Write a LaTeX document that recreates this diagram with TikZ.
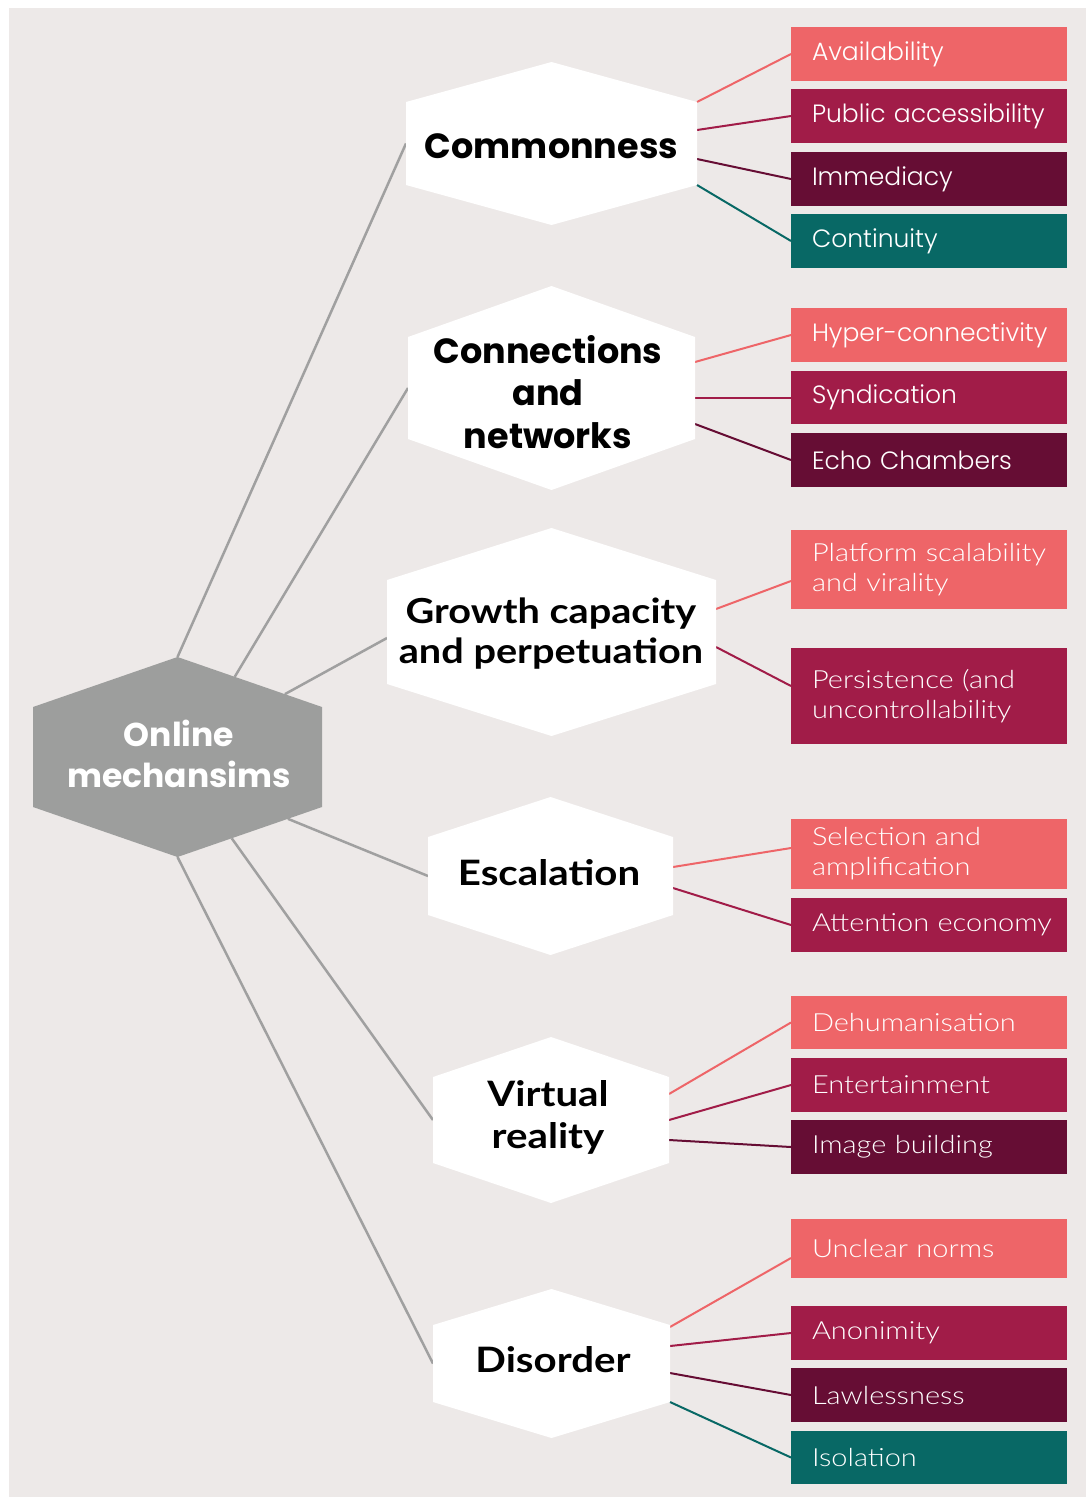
\documentclass[tikz,border=0pt]{standalone}
\usepackage{fontspec}
\usetikzlibrary{calc}

% Typefaces: a geometric sans for the upper groups, a humanist one for the rest
\newfontfamily\geoB{Poppins}
\newfontfamily\geoL{Poppins Light}
\newfontfamily\humB{Lato}[FakeStretch=1.15]
\newfontfamily\humL{Lato Light}[FakeStretch=1.16]

\definecolor{bgpaper}{HTML}{EDE9E8}
\definecolor{coral}{HTML}{EE6568}
\definecolor{crimson}{HTML}{A11C48}
\definecolor{maroon}{HTML}{660D34}
\definecolor{teal}{HTML}{086865}
\definecolor{hubgray}{HTML}{9D9E9D}
\definecolor{spokegray}{HTML}{A0A0A0}

% fill a pointy-topped hexagon around a frame node; #2 = height of the tips
\newcommand\hexfill[3]{%
  \fill[#3] (#1.north west) -- ($(#1.north)+(0,-#2)$) -- (#1.north east)
    -- (#1.south east) -- ($(#1.south)+(0,#2)$) -- (#1.south west) -- cycle;}

\tikzset{
  hexframe/.style={rectangle, inner sep=0pt, outer sep=0pt},
  hexlabel/.style={align=center, inner sep=0pt, text=black},
  geotitle/.style={hexlabel, font=\geoB\bfseries\fontsize{35}{42.5}\selectfont},
  humtitle/.style={hexlabel, font=\humB\bfseries\fontsize{35}{41}\selectfont},
  hubtitle/.style={hexlabel, text=white, font=\geoB\bfseries\fontsize{33}{41}\selectfont},
  leaf/.style={rectangle, minimum width=276, text width=234, inner xsep=21,
    inner ysep=0pt, outer sep=0pt, align=left, text=white},
  geoleaf/.style={leaf, font=\geoL\fontsize{25}{30}\selectfont},
  humleaf/.style={leaf, font=\humL\fontsize{25}{30}\selectfont},
  spoke/.style={draw=spokegray, line width=2.5},
  twig/.style={line width=2},
}

\begin{document}
\begin{tikzpicture}[x=1pt,y=-1pt]
\useasboundingbox (0,0) rectangle (1086,1497);
\fill[bgpaper] (9,8) rectangle (1086,1497);

% ---- hexagon frames (invisible rectangles spanning the vertical sides)
\node[hexframe, minimum width=289, minimum height=100] (hub)  at (177.5,757) {};
\node[hexframe, minimum width=291, minimum height=83]  (com)  at (551.5,143.5) {};
\node[hexframe, minimum width=287, minimum height=102] (conn) at (551.5,388) {};
\node[hexframe, minimum width=329, minimum height=104] (grow) at (551.5,632) {};
\node[hexframe, minimum width=245, minimum height=78]  (esc)  at (550.5,876) {};
\node[hexframe, minimum width=236, minimum height=86]  (virt) at (551,1120) {};
\node[hexframe, minimum width=237, minimum height=77]  (dis)  at (551.5,1363.5) {};

% ---- leaf boxes
\node[geoleaf, fill=coral,   minimum height=54] (avail)  at (929,54)  {Availability};
\node[geoleaf, fill=crimson, minimum height=54] (public) at (929,116) {\mbox{Public accessibility}};
\node[geoleaf, fill=maroon,  minimum height=54] (immed)  at (929,179) {Immediacy};
\node[geoleaf, fill=teal,    minimum height=54] (contin) at (929,241) {Continuity};

\node[geoleaf, fill=coral,   minimum height=54] (hyper)  at (929,335)   {\mbox{Hyper-connectivity}};
\node[geoleaf, fill=crimson, minimum height=53] (synd)   at (929,397.5) {Syndication};
\node[geoleaf, fill=maroon,  minimum height=54] (echo)   at (929,460)   {Echo Chambers};

\node[humleaf, fill=coral,   minimum height=79] (platf)  at (929,569.5) {\mbox{Platform scalability}\\\mbox{and virality}};
\node[humleaf, fill=crimson, minimum height=96] (persist) at (929,696)  {\mbox{Persistence (and}\\\mbox{uncontrollability}};

\node[humleaf, fill=coral,   minimum height=70] (select) at (929,854)  {\mbox{Selection and}\\\mbox{amplification}};
\node[humleaf, fill=crimson, minimum height=54] (attent) at (929,925)  {\mbox{Attention economy}};

\node[humleaf, fill=coral,   minimum height=53] (dehum)  at (929,1022.5) {Dehumanisation};
\node[humleaf, fill=crimson, minimum height=54] (entert) at (929,1085)   {Entertainment};
\node[humleaf, fill=maroon,  minimum height=54] (image)  at (929,1147)   {Image building};

\node[humleaf, fill=coral,   minimum height=59] (unclear) at (929,1248.5) {Unclear norms};
\node[humleaf, fill=crimson, minimum height=54] (anon)    at (929,1333)   {Anonimity};
\node[humleaf, fill=maroon,  minimum height=54] (lawless) at (929,1395)   {Lawlessness};
\node[humleaf, fill=teal,    minimum height=53] (isol)    at (929,1457.5) {Isolation};

% ---- spokes from the central hexagon
\coordinate (hubN) at ($(hub.north)+(0,-50)$);
\coordinate (hubS) at ($(hub.south)+(0,50)$);
\draw[spoke] (hubN) -- (com.west);
\draw[spoke] ($(hubN)!0.396!(hub.north east)$) -- (conn.west);
\draw[spoke] ($(hubN)!0.743!(hub.north east)$) -- ($(grow.west)+(0,6)$);
\draw[spoke] ($(hub.south east)!0.236!(hubS)$) -- (esc.west);
\draw[spoke] ($(hub.south east)!0.625!(hubS)$) -- (virt.west);
\draw[spoke] (hubS) -- (dis.west);

% ---- twigs to the leaf boxes
\draw[twig, coral]   (com.north east) -- (avail.west);
\draw[twig, crimson] ($(com.east)+(0,-13.5)$) -- (public.west);
\draw[twig, maroon]  ($(com.east)+(0,15.5)$) -- (immed.west);
\draw[twig, teal]    (com.south east) -- (contin.west);

\draw[twig, coral]   ($(conn.east)+(0,-26)$) -- (hyper.west);
\draw[twig, crimson] ($(conn.east)+(0,9.5)$) -- (synd.west);
\draw[twig, maroon]  ($(conn.east)+(0,36)$) -- (echo.west);

\draw[twig, coral]   ($(grow.east)+(0,-23)$) -- ($(platf.west)+(0,11.5)$);
\draw[twig, crimson] ($(grow.east)+(0,15)$) -- ($(persist.west)+(0,-10)$);

\draw[twig, coral]   ($(esc.east)+(0,-9)$) -- ($(select.west)+(0,-6)$);
\draw[twig, crimson] ($(esc.east)+(0,12)$) -- (attent.west);

\draw[twig, coral]   ($(virt.east)+(0,-26)$) -- (dehum.west);
\draw[twig, crimson] (virt.east) -- (entert.west);
\draw[twig, maroon]  ($(virt.east)+(0,20)$) -- (image.west);

\draw[twig, coral]   ($(dis.east)+(0,-36.5)$) -- ($(unclear.west)+(0,9.5)$);
\draw[twig, crimson] ($(dis.east)+(0,-17.5)$) -- (anon.west);
\draw[twig, maroon]  ($(dis.east)+(0,9.5)$) -- (lawless.west);
\draw[twig, teal]    (dis.south east) -- (isol.west);

% ---- hexagon bodies
\hexfill{hub}{50}{hubgray}
\hexfill{com}{40}{white}
\hexfill{conn}{51}{white}
\hexfill{grow}{52}{white}
\hexfill{esc}{40}{white}
\hexfill{virt}{40}{white}
\hexfill{dis}{36}{white}

% ---- hexagon titles
\node[hubtitle] (hubT)  at (179,754)     {Online\\mechansims};
\node[geotitle] (comT)  at (551.5,146.5) {Commonness};
\node[geotitle] (connT) at (548,392)     {Connections\\and\\networks};
\node[humtitle, font=\humB\bfseries\fontsize{34.5}{40}\selectfont] (growT) at (551,634) {Growth capacity\\and perpetuation};
\node[humtitle] (escT)  at (549,873)     {Escalation};
\node[humtitle, font=\humB\bfseries\fontsize{35}{42}\selectfont] (virtT) at (548,1117) {Virtual\\reality};
\node[humtitle] (disT)  at (553,1360)    {Disorder};
\end{tikzpicture}
\end{document}
